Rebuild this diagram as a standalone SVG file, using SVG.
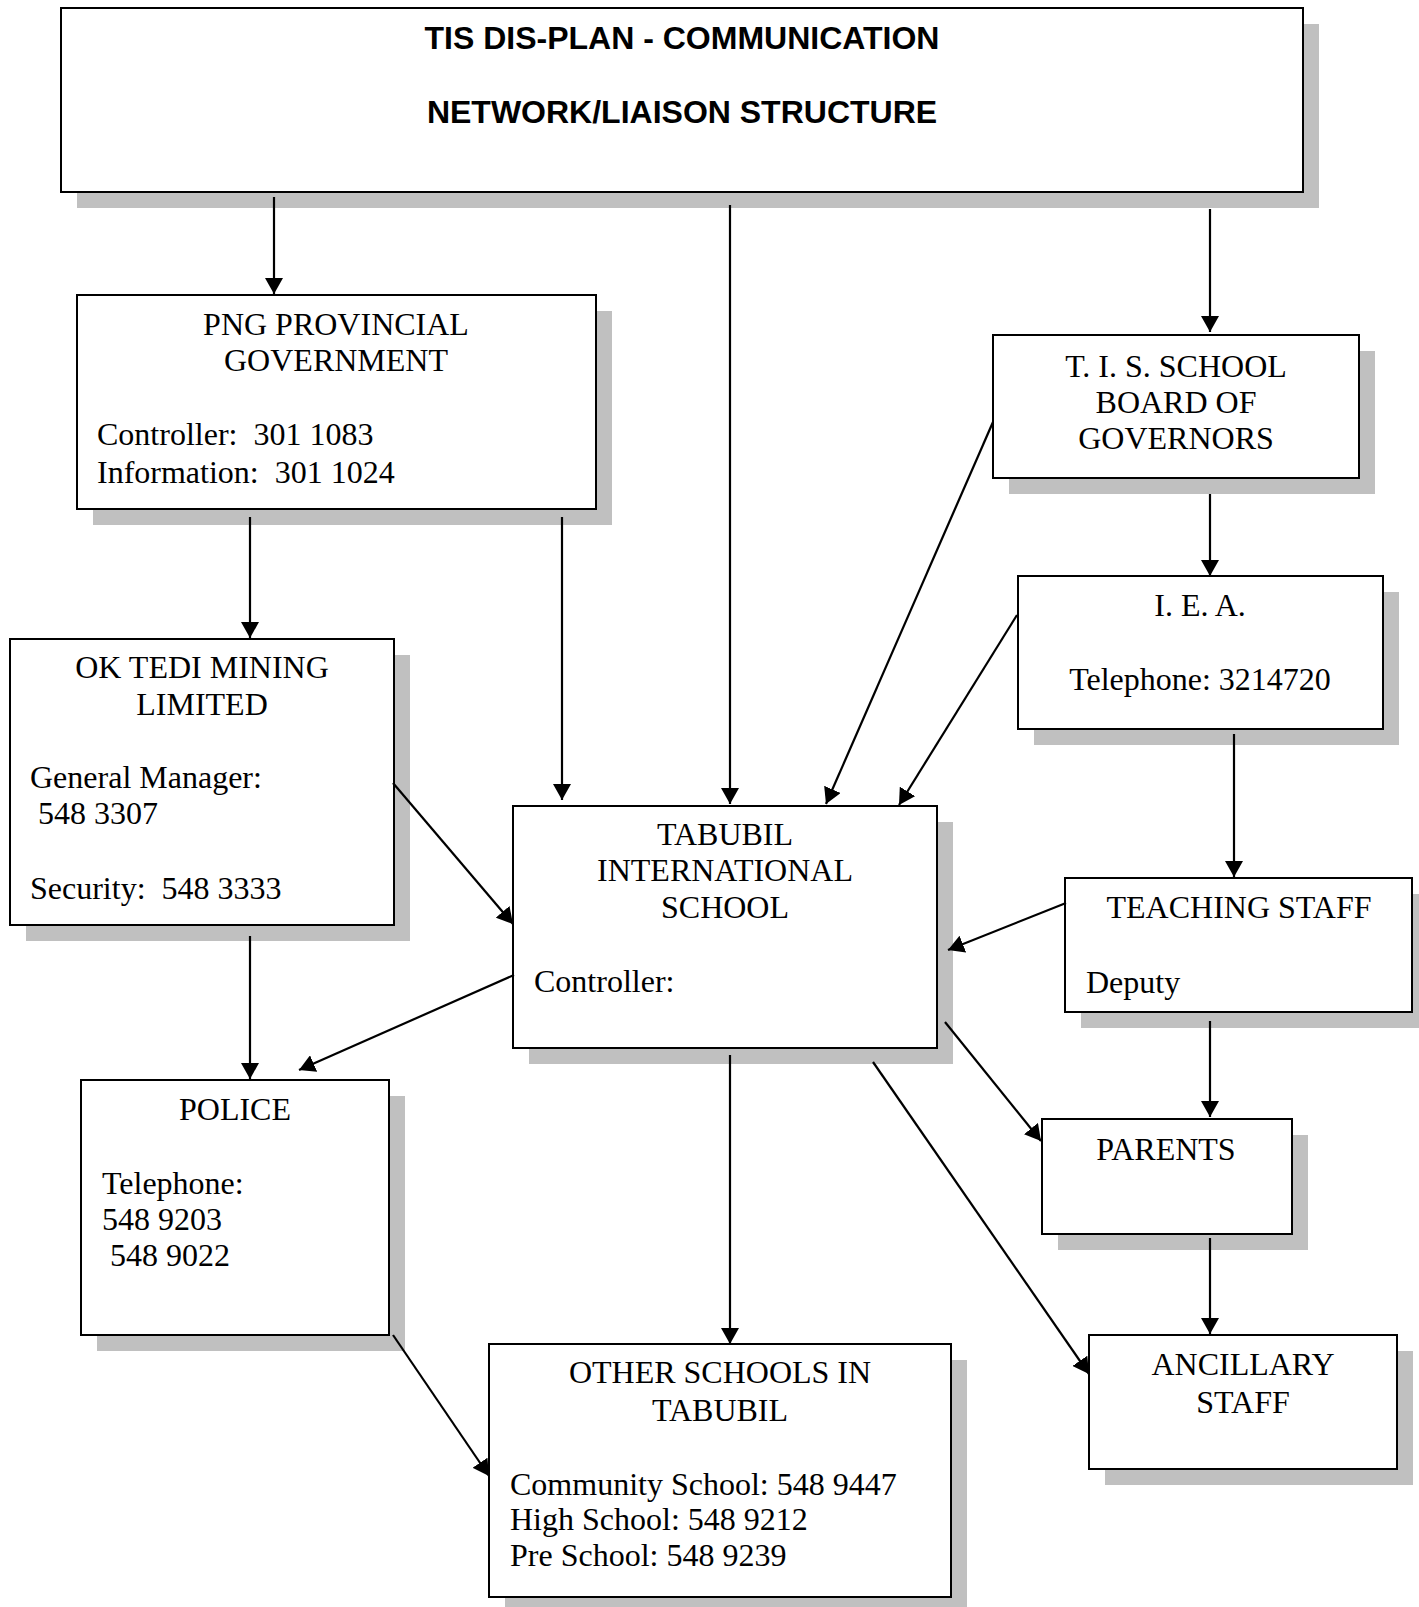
<svg xmlns="http://www.w3.org/2000/svg" width="1419" height="1607" viewBox="0 0 1419 1607">
<defs>
<style>
.sh{fill:#c0c0c0;stroke:none}
.bx{fill:#ffffff;stroke:#000000;stroke-width:2}
.t{font-family:"Liberation Serif","Times New Roman",serif;font-size:32px;fill:#000}
.c{text-anchor:middle}
.ttl{font-family:"Liberation Sans",Arial,sans-serif;font-size:32px;font-weight:bold;fill:#000;text-anchor:middle}
.ln{stroke:#000;stroke-width:2.2;fill:none;marker-end:url(#ah)}
</style>
<marker id="ah" markerUnits="userSpaceOnUse" markerWidth="17" markerHeight="18" refX="16" refY="9" orient="auto" viewBox="0 0 17 18">
<path d="M0,0 L16,9 L0,18 z" fill="#000"/>
</marker>
</defs>
<rect width="1419" height="1607" fill="#ffffff"/>

<g id="title">
<rect class="sh" x="77" y="24" width="1242" height="184"/>
<rect class="bx" x="61" y="8" width="1242" height="184"/>
<text class="ttl" x="682" y="49">TIS DIS-PLAN - COMMUNICATION</text>
<text class="ttl" x="682" y="123">NETWORK/LIAISON STRUCTURE</text>
</g>

<g id="png">
<rect class="sh" x="93" y="311" width="519" height="214"/>
<rect class="bx" x="77" y="295" width="519" height="214"/>
<text class="t c" x="336" y="335">PNG PROVINCIAL</text>
<text class="t c" x="336" y="371">GOVERNMENT</text>
<text class="t" x="97" y="445" xml:space="preserve">Controller:  301 1083</text>
<text class="t" x="97" y="483" xml:space="preserve">Information:  301 1024</text>
</g>

<g id="oktedi">
<rect class="sh" x="26" y="655" width="384" height="286"/>
<rect class="bx" x="10" y="639" width="384" height="286"/>
<text class="t c" x="202" y="678">OK TEDI MINING</text>
<text class="t c" x="202" y="715">LIMITED</text>
<text class="t" x="30" y="788">General Manager:</text>
<text class="t" x="30" y="824" xml:space="preserve"> 548 3307</text>
<text class="t" x="30" y="899" xml:space="preserve">Security:  548 3333</text>
</g>

<g id="tabubil">
<rect class="sh" x="529" y="822" width="424" height="242"/>
<rect class="bx" x="513" y="806" width="424" height="242"/>
<text class="t c" x="725" y="845">TABUBIL</text>
<text class="t c" x="725" y="881">INTERNATIONAL</text>
<text class="t c" x="725" y="918">SCHOOL</text>
<text class="t" x="534" y="992">Controller:</text>
</g>

<g id="tis">
<rect class="sh" x="1009" y="351" width="366" height="143"/>
<rect class="bx" x="993" y="335" width="366" height="143"/>
<text class="t c" x="1176" y="377">T. I. S. SCHOOL</text>
<text class="t c" x="1176" y="413">BOARD OF</text>
<text class="t c" x="1176" y="449">GOVERNORS</text>
</g>

<g id="iea">
<rect class="sh" x="1034" y="592" width="365" height="153"/>
<rect class="bx" x="1018" y="576" width="365" height="153"/>
<text class="t c" x="1200" y="616">I. E. A.</text>
<text class="t c" x="1200" y="690">Telephone: 3214720</text>
</g>

<g id="teaching">
<rect class="sh" x="1081" y="894" width="347" height="134"/>
<rect class="bx" x="1065" y="878" width="347" height="134"/>
<text class="t c" x="1239" y="918">TEACHING STAFF</text>
<text class="t" x="1086" y="993">Deputy</text>
</g>

<g id="parents">
<rect class="sh" x="1058" y="1135" width="250" height="115"/>
<rect class="bx" x="1042" y="1119" width="250" height="115"/>
<text class="t c" x="1166" y="1160">PARENTS</text>
</g>

<g id="ancillary">
<rect class="sh" x="1105" y="1351" width="308" height="134"/>
<rect class="bx" x="1089" y="1335" width="308" height="134"/>
<text class="t c" x="1243" y="1375">ANCILLARY</text>
<text class="t c" x="1243" y="1413">STAFF</text>
</g>

<g id="police">
<rect class="sh" x="97" y="1096" width="308" height="255"/>
<rect class="bx" x="81" y="1080" width="308" height="255"/>
<text class="t c" x="235" y="1120">POLICE</text>
<text class="t" x="102" y="1194">Telephone:</text>
<text class="t" x="102" y="1230">548 9203</text>
<text class="t" x="102" y="1266" xml:space="preserve"> 548 9022</text>
</g>

<g id="others">
<rect class="sh" x="505" y="1360" width="462" height="260"/>
<rect class="bx" x="489" y="1344" width="462" height="253"/>
<text class="t c" x="720" y="1383">OTHER SCHOOLS IN</text>
<text class="t c" x="720" y="1421">TABUBIL</text>
<text class="t" x="510" y="1495">Community School: 548 9447</text>
<text class="t" x="510" y="1530">High School: 548 9212</text>
<text class="t" x="510" y="1566">Pre School: 548 9239</text>
</g>

<g id="connectors">
<line class="ln" x1="274" y1="197" x2="274" y2="294"/>
<line class="ln" x1="730" y1="205" x2="730" y2="804"/>
<line class="ln" x1="1210" y1="209" x2="1210" y2="332"/>
<line class="ln" x1="250" y1="517" x2="250" y2="638"/>
<line class="ln" x1="562" y1="517" x2="562" y2="800"/>
<line class="ln" x1="393" y1="783" x2="513" y2="924"/>
<line class="ln" x1="993" y1="422" x2="826" y2="804"/>
<line class="ln" x1="1210" y1="494" x2="1210" y2="576"/>
<line class="ln" x1="1017" y1="615" x2="899" y2="805"/>
<line class="ln" x1="1234" y1="734" x2="1234" y2="877"/>
<line class="ln" x1="1066" y1="903" x2="948" y2="950"/>
<line class="ln" x1="1210" y1="1021" x2="1210" y2="1117"/>
<line class="ln" x1="945" y1="1022" x2="1041" y2="1141"/>
<line class="ln" x1="1210" y1="1238" x2="1210" y2="1334"/>
<line class="ln" x1="873" y1="1062" x2="1089" y2="1374"/>
<line class="ln" x1="730" y1="1055" x2="730" y2="1344"/>
<line class="ln" x1="250" y1="936" x2="250" y2="1079"/>
<line class="ln" x1="514" y1="975" x2="299" y2="1070"/>
<line class="ln" x1="393" y1="1335" x2="489" y2="1476"/>
</g>
</svg>
